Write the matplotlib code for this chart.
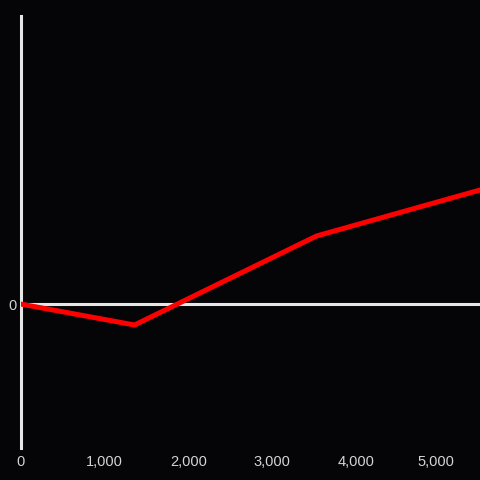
import matplotlib
matplotlib.use('Agg')
import matplotlib.pyplot as plt
import matplotlib.transforms as mtransforms

# data (y in arbitrary units, only 0 is labelled)
x_vals = [0, 1360, 3530, 5480]
y_vals = [0, -21, 68, 114]
x_ticks = [0, 1000, 2000, 3000, 4000, 5000]
x_labels = ['0', '1,000', '2,000', '3,000', '4,000', '5,000']

bg = '#050407'
axis_col = '#e6e6e6'
text_col = '#d4d4d4'

plt.rcParams['font.family'] = ['Liberation Sans', 'DejaVu Sans']

fig = plt.figure(figsize=(4.8, 4.8), dpi=100, facecolor=bg)
ax = fig.add_axes([20.5 / 480, 32 / 480, 459.5 / 480, 432 / 480])
ax.set_facecolor(bg)

ax.set_xlim(0, 5480)
ax.set_ylim(-144, 288)

ax.axhline(0, color=axis_col, lw=2.2, zorder=1)
ax.plot(x_vals, y_vals, color='#ff0000', lw=3.6, zorder=3, solid_joinstyle='miter')

for s in ['top', 'right', 'bottom']:
    ax.spines[s].set_visible(False)
ax.spines['left'].set_color(axis_col)
ax.spines['left'].set_linewidth(2.2)

ax.set_xticks(x_ticks)
ax.set_xticklabels(x_labels)
ax.set_yticks([0])
ax.set_yticklabels(['0'])
ax.tick_params(axis='both', length=0, colors=text_col, labelsize=10.5)
ax.tick_params(axis='x', pad=5)
ax.tick_params(axis='y', pad=3)

# last label is pulled in a little so it stays inside the frame
last = ax.get_xticklabels()[-1]
last.set_transform(last.get_transform() + mtransforms.ScaledTranslation(-4 / 100, 0, fig.dpi_scale_trans))

fig.savefig('out.png', dpi=100, facecolor=bg)
